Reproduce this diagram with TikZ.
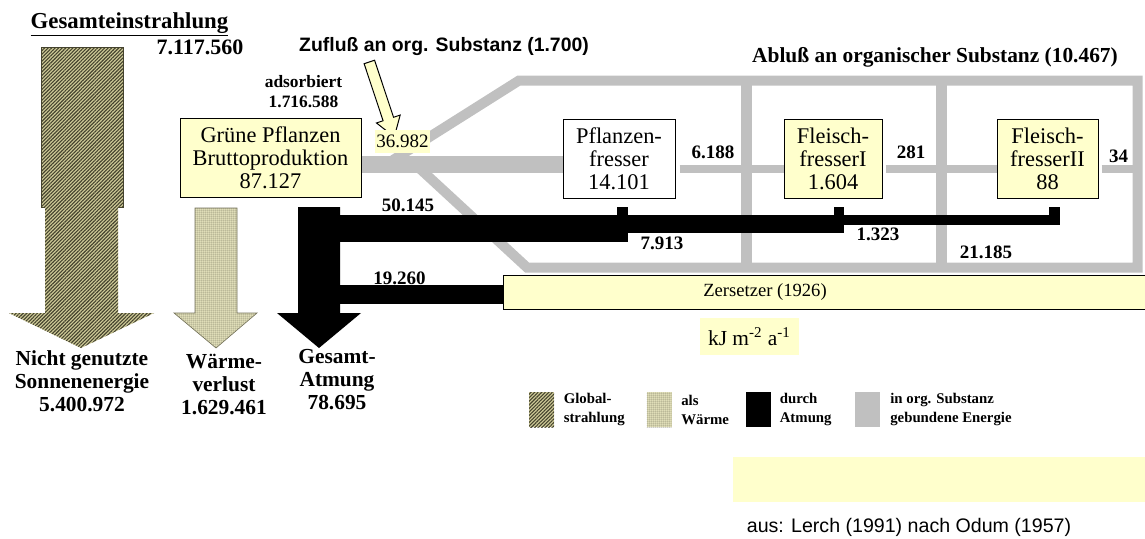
\documentclass[tikz,border=0pt]{standalone}
\usepackage{fontspec}
\setmainfont{Liberation Serif}
\newfontfamily\arialfont{Liberation Sans}
\usetikzlibrary{positioning, arrows.meta, patterns.meta, shapes.arrows, backgrounds}

\definecolor{paleyellow}{HTML}{FFFFCC}
\definecolor{orggray}{HTML}{C0C0C0}
\definecolor{hatchbase}{HTML}{CFCB98}
\definecolor{hatchline}{HTML}{45432E}
\definecolor{warmbase}{HTML}{E2E0BA}
\definecolor{warmdot}{HTML}{74725A}

\newcommand{\setfs}[2]{\fontsize{#1}{#2}\selectfont}

\begin{document}
\begin{tikzpicture}[
        x=0.5pt, y=-0.5pt,
        troph/.style={rectangle, draw, line width=0.5pt, fill=paleyellow, align=center, inner sep=0pt, minimum height=39.5pt, font=\setfs{11.2}{11.5}},
        herbbox/.style={troph, fill=white},
        val/.style={font=\bfseries\setfs{9.5}{10}, inner sep=0pt},
        sinklabel/.style={align=center, font=\bfseries\setfs{10.7}{11.5}, inner sep=0pt},
        legtext/.style={align=left, font=\bfseries\setfs{7.4}{9.5}, inner sep=0pt},
        legbox/.style={minimum width=12.5pt, minimum height=17.5pt, inner sep=0pt},
        orgline/.style={draw=orggray, line width=4pt},
        globalfill/.style={fill=hatchbase, postaction={pattern={Lines[angle=45, distance=1.25pt, line width=0.55pt]}, pattern color=hatchline}},
        warmfill/.style={fill=warmbase, postaction={pattern={Dots[distance=0.9pt, radius=0.28pt]}, pattern color=warmdot}}
    ]
        \useasboundingbox (0,0) rectangle (1145,538);

        % Trophic levels
        \node[troph, minimum width=90.5pt] (gruene) at (270.5,157.5) {Grüne Pflanzen\\Bruttoproduktion\\87.127};
        \node[herbbox, minimum width=56pt] (pflanzen) at (619,158.5) {Pflanzen-\\fresser\\14.101};
        \node[troph, minimum width=49pt] (fleisch1) at (833,158.5) {Fleisch-\\fresserI\\1.604};
        \node[troph, minimum width=50.5pt] (fleisch2) at (1047.5,158.5) {Fleisch-\\fresserII\\88};
        \node[troph, minimum width=321pt, minimum height=17pt,
              label={[font=\setfs{9.3}{10}, inner sep=0pt, xshift=-29.5pt]center:Zersetzer (1926)}] (zersetzer) at (824,292) {};

        % Headings
        \node[font=\bfseries\setfs{11.4}{12}, inner sep=0pt, anchor=base] (titel) at (129.5,28) {\underline{Gesamteinstrahlung}};
        \node[font=\bfseries\setfs{11}{12}, inner sep=0pt] (global) at (200,47) {7.117.560};
        \node[align=center, font=\bfseries\setfs{8.7}{10}, inner sep=0pt] (adsorb) at (303.5,92) {adsorbiert\\1.716.588};
        \node[font=\arialfont\bfseries\setfs{9.7}{10}, inner sep=0pt] (zutext) at (444,47) {Zufluß an org. Substanz (1.700)};
        \node[font=\bfseries\setfs{10.7}{11}, inner sep=0pt] (abtext) at (935,57) {Abluß an organischer Substanz (10.467)};

        % Inflow arrow
        \node[single arrow, draw, line width=0.5pt, fill=paleyellow, inner sep=2.5pt, minimum height=39.5pt,
              single arrow head extend=3.5pt, single arrow tip angle=67, rotate=-71.6] (zufluss) at (380.5,95.5) {};
        \node[fill=paleyellow, minimum width=27.5pt, minimum height=11.5pt, inner sep=0pt, font=\setfs{9.5}{10}] (netto) at (402.5,141.5) {36.982};

        % Flow values
        \node[val] (v6188) at (713,152) {6.188};
        \node[val] (v281) at (911,152) {281};
        \node[val] (v34) at (1118.5,156) {34};
        \node[val] (v50145) at (408,205) {50.145};
        \node[val] (v7913) at (662,243) {7.913};
        \node[val] (v1323) at (878,234) {1.323};
        \node[val] (v21185) at (986,252) {21.185};
        \node[val] (v19260) at (399.5,278) {19.260};

        % Sinks
        \node[sinklabel] (sonne) at (82,381) {Nicht genutzte\\Sonnenenergie\\5.400.972};
        \node[sinklabel] (waerme) at (224,384) {Wärme-\\verlust\\1.629.461};
        \node[sinklabel] (atmung) at (337,380) {Gesamt-\\Atmung\\78.695};

        % Units
        \node[fill=paleyellow, minimum width=49.5pt, minimum height=18.5pt, inner sep=0pt, font=\setfs{10.7}{11}] (einheit) at (749.5,336.5) {kJ m\textsuperscript{-2} a\textsuperscript{-1}};

        % Legend
        \node[legbox, globalfill] (legglobal) at (541.5,409.5) {};
        \node[legtext, right=4.5pt of legglobal] {Global-\\strahlung};
        \node[legbox, warmfill] (legwarm) at (659,409.5) {};
        \node[legtext, right=4.5pt of legwarm] {als\\Wärme};
        \node[legbox, fill=black] (legresp) at (758.5,409.5) {};
        \node[legtext, right=4pt of legresp] {durch\\Atmung};
        \node[legbox, fill=orggray] (legorg) at (867,409.5) {};
        \node[legtext, right=5pt of legorg] {in org. Substanz\\gebundene Energie};

        \fill[paleyellow] (733,457) rectangle (1145,502);
        \node[font=\arialfont\setfs{9.8}{10}, inner sep=0pt] (quelle) at (909,527) {aus: Lerch (1991) nach Odum (1957)};

        \begin{scope}[on background layer]
            % Organic matter
            \draw[orgline, line width=5pt, line join=miter] (393,160) -- (519,80.5) -- (1137.5,80.5) -- (1137.5,267.5) -- (527,267.5) -- (417,166);
            \draw[orgline, line width=5.5pt] (746.5,80.5) -- (746.5,267.5);
            \draw[orgline, line width=5.5pt] (941.5,80.5) -- (941.5,267.5);
            \fill[orggray] (gruene.east |- 0,156) rectangle (pflanzen.west |- 0,173);
            \draw[orgline, shorten <=2pt] (pflanzen.east |- 0,169) -- (fleisch1.west |- 0,169);
            \draw[orgline, shorten <=1.5pt] (fleisch1.east |- 0,169) -- (fleisch2.west |- 0,169);
            \draw[orgline, shorten <=1.5pt] (fleisch2.east |- 0,169) -- (1137.5,169);

            % Respiration
            \fill (298,207) -- (340,207) -- (340,313) -- (361,313) -- (319,348) -- (277,313) -- (298,313) -- cycle;
            \fill (340,215) rectangle (628,242);
            \fill (617,207) rectangle (628,215);
            \fill (628,215) rectangle (844,233);
            \fill (834,207) rectangle (844,215);
            \fill (844,215) rectangle (1060,225);
            \fill (1049,207) rectangle (1060,215);
            \fill (340,285) rectangle (zersetzer.west |- 0,304);

            % Radiation
            \draw[hatchline, line width=0.5pt, globalfill] (41,47) rectangle (123,207);
            \path[globalfill] (45,207) -- (118,207) -- (118,313) -- (154,313) -- (81,348) -- (9,313) -- (45,313) -- cycle;
            \draw[warmdot, line width=0.3pt, warmfill] (195,208) -- (237,208) -- (237,313) -- (257,313) -- (216,348) -- (174,313) -- (195,313) -- cycle;
        \end{scope}
    \end{tikzpicture}
\end{document}
